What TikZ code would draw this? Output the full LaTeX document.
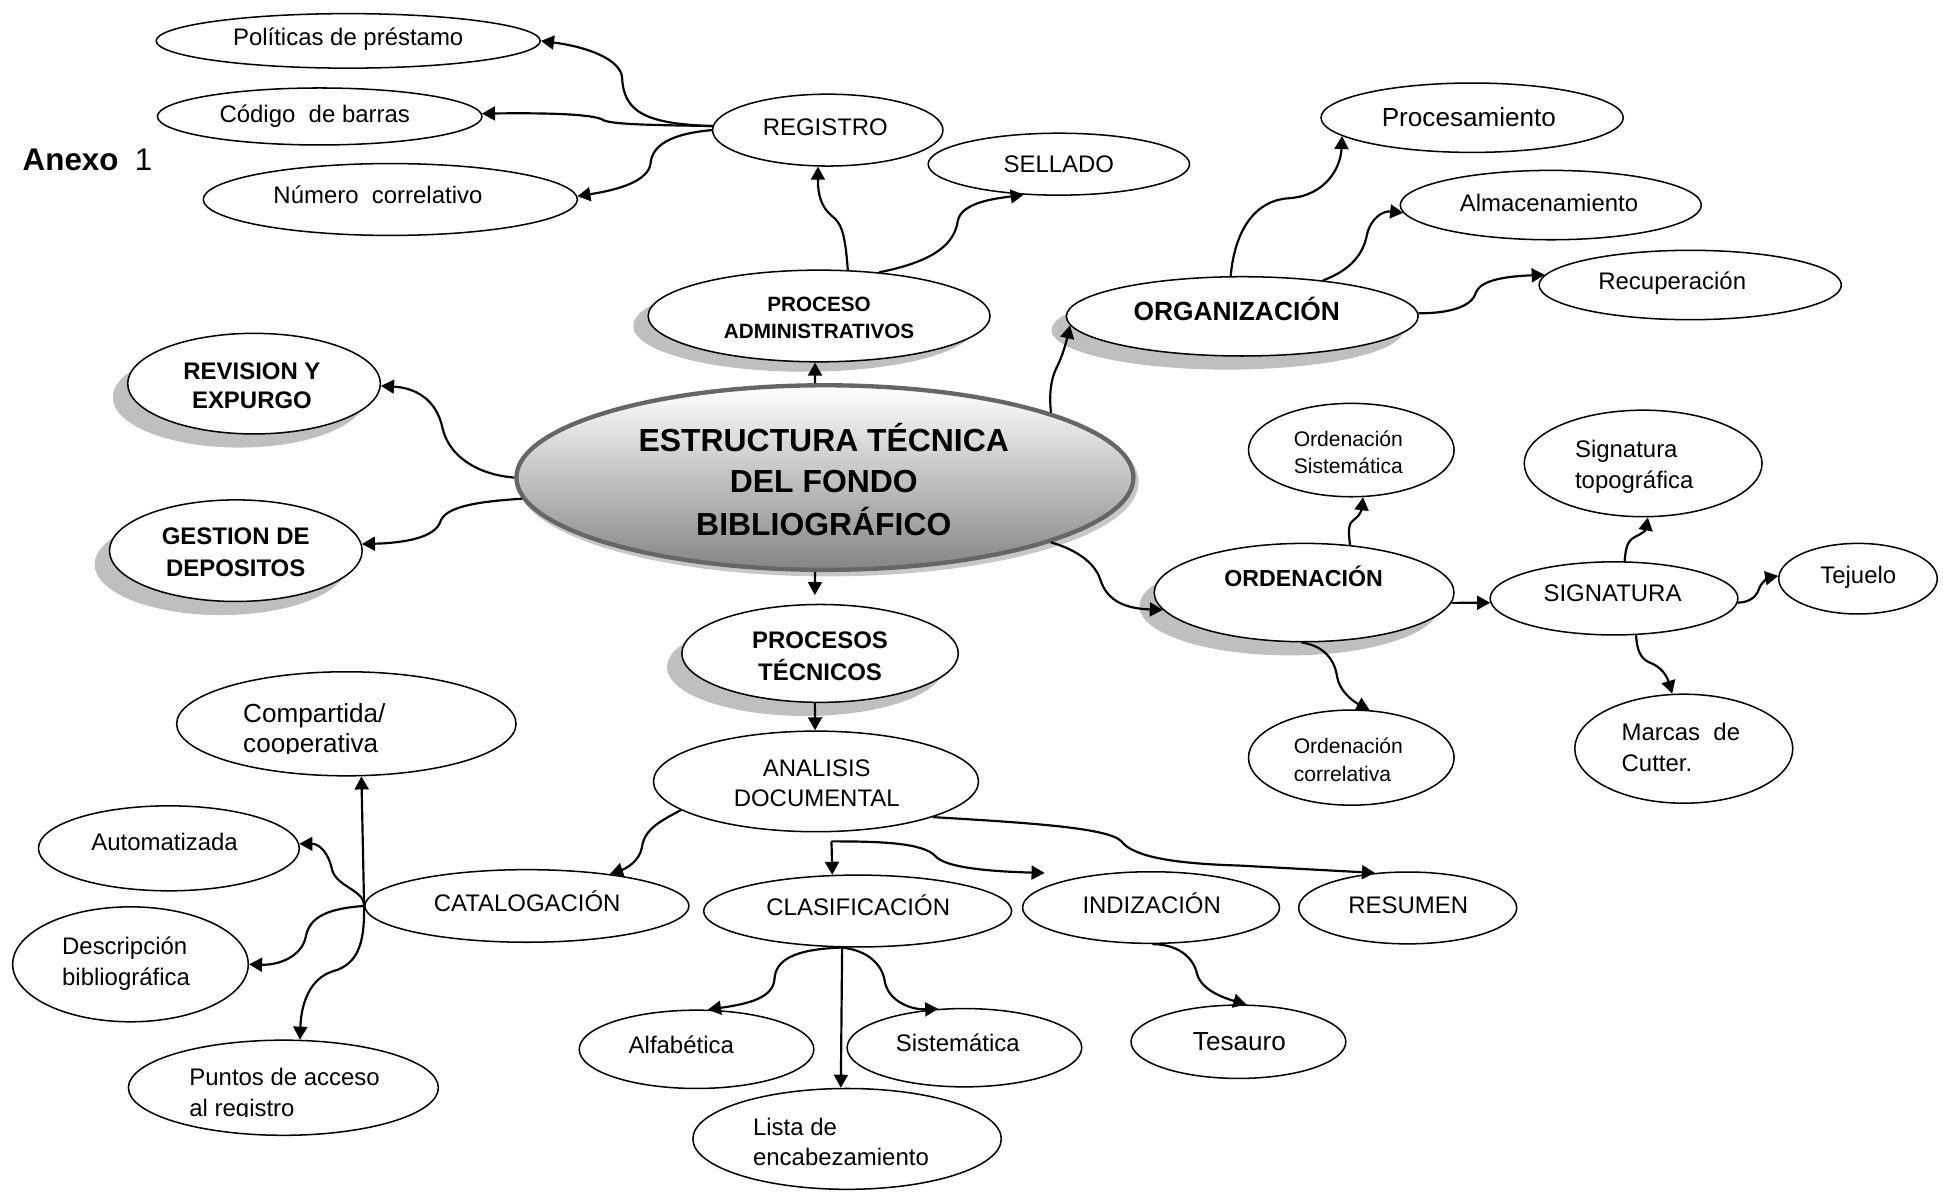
\documentclass[tikz,border=0pt]{standalone}
\usepackage{fontspec}
\setmainfont{Liberation Sans}
\usetikzlibrary{shapes.geometric,arrows.meta,calc}
\newcommand\ellN[6][]{\node[ell,minimum width={#5*0.04cm},minimum height={#6*0.04cm},#1] (#2) at (#3,#4) {};}
\newcommand\shadN[5]{\node[shad,minimum width={#4*0.04cm},minimum height={#5*0.04cm}] (#1-sh) at (#2,#3) {};}
\begin{document}
\begin{tikzpicture}[x=0.02cm, y=-0.02cm,
  ell/.style={ellipse, draw=black, line width=0.7pt, fill=white, inner sep=0pt},
  shad/.style={ellipse, fill=black!25, draw=none, inner sep=0pt},
  con/.style={line width=1pt, -{Triangle[length=6pt,width=6.4pt]}},
  lbl/.style={inner sep=0pt, anchor=base},
  lblL/.style={inner sep=0pt, anchor=base west},
  r11/.style={font=\fontsize{11}{13}\selectfont},
  r12/.style={font=\fontsize{12}{14}\selectfont},
  r97/.style={font=\fontsize{9.7}{12}\selectfont},
  b95/.style={font=\fontsize{9.5}{12}\selectfont\bfseries},
  b11/.style={font=\fontsize{11}{13}\selectfont\bfseries},
  b106/.style={font=\fontsize{10.65}{13}\selectfont\bfseries},
  b12/.style={font=\fontsize{12.1}{14}\selectfont\bfseries},
  b147/.style={font=\fontsize{14.65}{17}\selectfont\bfseries},
]
\useasboundingbox (0,0) rectangle (1568,962);

% ---------- shadows ----------
\shadN{pa}{649}{263}{138}{37}
\shadN{org}{990.5}{266.3}{142}{32}
\shadN{rev}{193}{320.6}{102}{40.6}
\shadN{ges}{178.3}{455.4}{102}{41}
\shadN{ordn}{1040.4}{489.2}{121}{39.7}
\shadN{pt}{649.8}{538.3}{111.6}{39.5}
\node[ellipse, inner sep=0pt, minimum width=9.96cm, minimum height=2.98cm,
      fill=black!22, draw=black!22, line width=2pt] (cen-sh) at (668.2,388.9) {};

% ---------- ellipses ----------
\node[ellipse, inner sep=0pt, minimum width=9.96cm, minimum height=2.98cm,
      draw=black!60, line width=2pt, top color=white, bottom color=black!48] (cen) at (665.7,385.4) {};
\ellN{pol}{281}{33}{155}{22}
\ellN{cod}{258}{94}{131}{23}
\ellN{num}{315}{161}{151}{29}
\ellN{reg}{668}{105}{93}{29}
\ellN{sel}{854.5}{132.5}{105.5}{25}
\ellN{pa}{661}{255}{138}{37}
\ellN{org}{1002.5}{255.3}{142}{32}
\ellN{proc}{1188}{95}{122}{28}
\ellN{alm}{1251.5}{165.5}{121.5}{28}
\ellN{rec}{1364}{230}{122}{28}
\ellN{rev}{205}{309.6}{102}{40.6}
\ellN{ges}{190.3}{444.4}{102}{41}
\ellN{ordn}{1052.4}{478.2}{121}{39.7}
\ellN{os}{1090.5}{363.2}{83}{37.7}
\ellN{oc}{1090.5}{611.4}{83}{38.4}
\ellN{sig}{1302.5}{482.9}{100}{29.5}
\ellN{st}{1326}{374}{96}{43}
\ellN{tej}{1499.4}{467}{64}{28.5}
\ellN{mc}{1358.8}{604.2}{88}{44}
\ellN{pt}{661.8}{527.3}{111.6}{39.5}
\ellN{ad}{658.5}{630.6}{131.2}{40.6}
\ellN{cla}{692.1}{735.2}{124.3}{29}
\ellN{ind}{928.9}{732.4}{103.7}{28.9}
\ellN{res}{1136}{732.7}{88}{29}
\ellN{tes}{999.4}{840.7}{86.7}{29.6}
\ellN{alf}{562.1}{846.8}{94.7}{31.6}
\ellN{sis}{778.3}{845.5}{94.7}{31.6}
\ellN{lis}{683.6}{919.1}{124.5}{40.7}
\ellN{cat}{425.2}{731.1}{130.8}{29.3}
\ellN{comp}{279.5}{584.1}{137}{42}
\ellN{aut}{136.3}{684.6}{105.3}{34.3}
\ellN{des}{105.3}{778.2}{95.1}{46.4}
\ellN{pun}{228.7}{877.8}{125.1}{38.4}

% ---------- texts ----------
\node[lblL, font=\fontsize{14.4}{17}\selectfont] (anexo) at (18,137.2) {\textbf{Anexo}\hspace{7.5pt}1};
\node[lbl,r11] (pol-t) at (281,37) {Políticas de préstamo};
\node[lbl,r11] (cod-t) at (254,99) {Código\ \ de barras};
\node[lbl,r11] (num-t) at (305,164) {Número\ \ correlativo};
\node[lbl,r11] (reg-t) at (666,109.5) {REGISTRO};
\node[lbl,r11] (sel-t) at (854.5,139) {SELLADO};
\node[lbl,b95] (pa-t1) at (661,251.5) {PROCESO};
\node[lbl,b95] (pa-t2) at (661,273.5) {ADMINISTRATIVOS};
\node[lbl,b12] (org-t) at (998,258.3) {ORGANIZACIÓN};
\node[lbl,r12] (proc-t) at (1185.4,102.2) {Procesamiento};
\node[lbl,r11] (alm-t) at (1250,170.8) {Almacenamiento};
\node[lbl,r11] (rec-t) at (1349.5,233.5) {Recuperación};
\node[lbl,b11] (rev-t1) at (203.3,306) {REVISION Y};
\node[lbl,b11] (rev-t2) at (203.3,329.5) {EXPURGO};
\node[lbl,b11] (ges-t1) at (190.2,439.6) {GESTION DE};
\node[lbl,b11] (ges-t2) at (190.2,465.1) {DEPOSITOS};
\node[lbl,b147] (cen-t1) at (664.8,364.6) {ESTRUCTURA TÉCNICA};
\node[lbl,b147] (cen-t2) at (664.8,397.8) {DEL FONDO};
\node[lbl,b147] (cen-t3) at (664.8,431.8) {BIBLIOGRÁFICO};
\node[lbl,b106] (ordn-t) at (1052,473.5) {ORDENACIÓN};
\node[lblL,r97] (os-t1) at (1043.7,360.5) {Ordenación};
\node[lblL,r97] (os-t2) at (1043.7,382) {Sistemática};
\node[lblL,r97] (oc-t1) at (1043.7,608) {Ordenación};
\node[lblL,r97] (oc-t2) at (1043.7,631) {correlativa};
\node[lbl,r11] (sig-t) at (1301.3,485.6) {SIGNATURA};
\node[lblL,r11] (st-t1) at (1270.7,369) {Signatura};
\node[lblL,r11] (st-t2) at (1270.7,394.5) {topográfica};
\node[lbl,r11] (tej-t) at (1499.6,471) {Tejuelo};
\node[lblL,r11] (mc-t1) at (1308.3,597.3) {Marcas\ \ de};
\node[lblL,r11] (mc-t2) at (1308.3,622.8) {Cutter.};
\node[lbl,b11] (pt-t1) at (661.8,523.3) {PROCESOS};
\node[lbl,b11] (pt-t2) at (661.8,548.8) {TÉCNICOS};
\node[lbl,r11] (ad-t1) at (659.1,626.3) {ANALISIS};
\node[lbl,r11] (ad-t2) at (659.1,651.1) {DOCUMENTAL};
\node[lbl,r11] (cla-t) at (692.6,738.5) {CLASIFICACIÓN};
\node[lbl,r11] (ind-t) at (929.4,737.1) {INDIZACIÓN};
\node[lbl,r11] (res-t) at (1136.5,737.1) {RESUMEN};
\node[lbl,r12] (tes-t) at (1000.2,847.5) {Tesauro};
\node[lbl,r11] (alf-t) at (549.8,850.1) {Alfabética};
\node[lbl,r11] (sis-t) at (772.9,848.5) {Sistemática};
\node[lblL,r11] (lis-t1) at (607.4,916) {Lista de};
\node[lblL,r11] (lis-t2) at (607.4,940.3) {encabezamiento};
\node[lbl,r11] (cat-t) at (425.4,735.5) {CATALOGACIÓN};
\node[lbl,r11] (aut-t) at (132.8,686) {Automatizada};
\node[lblL,r11] (des-t1) at (49.8,770) {Descripción};
\node[lblL,r11] (des-t2) at (49.8,795.5) {bibliográfica};
\begin{scope}
  \clip (140,550) rectangle (420,608.3);
  \node[lblL,r12] (comp-t1) at (195.9,583) {Compartida/};
  \node[lblL,r12] (comp-t2) at (195.9,607) {cooperativa};
\end{scope}
\begin{scope}
  \clip (110,850) rectangle (350,901.3);
  \node[lblL,r11] (pun-t1) at (152.5,876) {Puntos de acceso};
  \node[lblL,r11] (pun-t2) at (152.5,901) {al registro};
\end{scope}

% ---------- connectors ----------
\coordinate (brk) at (671,679);
\coordinate (indtip) at (843,704.5);

\draw[con] (reg.178.8) .. controls (520,100) and (503,90) .. (502,62) .. controls (500,48) and (475,38) .. (pol.0);
\draw[con] (reg.178.8) .. controls (540,101) and (495,101) .. (487,97) .. controls (480,92) and (440,91) .. (cod.1.3);
\draw[con] (reg.180) .. controls (540,108) and (526,118) .. (525,132) .. controls (523,146) and (500,153) .. (num.1.5);
\draw[con] (pa.58.3) .. controls (682,188) and (679,180) .. (671,174) .. controls (663,167) and (660,158) .. (reg.-105);
\draw[con] (pa.36.4) .. controls (748,212) and (770,200) .. (773,178) .. controls (776,163) and (805,160) .. (sel.-139.3);
\draw[con] (cen.96.3) -- (pa.-95.4);
\draw[con] (cen.16) .. controls (846,312) and (850,302) .. (853,296) .. controls (857,288) and (860,278) .. (org.183.1);
\draw[con] (org.106.4) .. controls (996,190) and (1010,162) .. (1040,160) .. controls (1070,158) and (1082,135) .. (proc.-172.9);
\draw[con] (org.24) .. controls (1090,218) and (1100,205) .. (1103,190) .. controls (1106,176) and (1116,170) .. (alm.-177.8);
\draw[con] (org.1) .. controls (1168,253) and (1188,248) .. (1191,236) .. controls (1195,226) and (1215,223) .. (rec.176.8);
\draw[con] (cen.180) .. controls (385,383) and (362,368) .. (357,345) .. controls (352,322) and (335,313) .. (rev.-1);
\draw[con] (cen.184.1) .. controls (380,405) and (358,410) .. (355,422) .. controls (350,433) and (330,438) .. (ges.3.3);
\draw[con, shorten >=4pt] (cen.-96.3) -- (pt.96.6);
\draw[con] (pt.-96.6) -- (ad.91.8);
\draw[con] (cen.-16.4) .. controls (870,444) and (884,455) .. (888,468) .. controls (893,483) and (905,491) .. (ordn.-173.4);
\draw[con] (ordn.46.4) .. controls (1088,428) and (1088,422) .. (1093,419) .. controls (1098,416) and (1099,410) .. (os.-76.5);
\draw[con] (ordn.-93) .. controls (1068,521) and (1077,532) .. (1079,546) .. controls (1081,558) and (1092,566) .. (oc.69.4);
\draw[con] (ordn.-4.1) -- (sig.182.3);
\draw[con] (sig.74.7) .. controls (1312,440) and (1314,436) .. (1320,433) .. controls (1326,430) and (1328,428) .. (st.-85.1);
\draw[con] (sig.-2.3) .. controls (1414,486) and (1418,480) .. (1420,474) .. controls (1423,468) and (1428,466) .. (tej.178.6);
\draw[con] (sig.-59.3) .. controls (1321,525) and (1324,532) .. (1332,535) .. controls (1340,538) and (1345,545) .. (mc.102.5);
\draw[con] (ad.-168) .. controls (530,664) and (520,670) .. (518,684) .. controls (516,695) and (505,701) .. (cat.21.8);
\draw[con] (brk) -- (cla.125.9);
\draw[con] (brk) .. controls (710,679) and (745,680) .. (755,691) .. controls (762,699) and (790,703) .. (indtip);
\draw[con] (ad.-17.8) .. controls (830,664) and (895,668) .. (905,679) .. controls (915,692) and (950,697) .. (1000,698.5) -- (res.133);
\draw[con] (cla.-113.4) .. controls (640,766) and (626,775) .. (625,790) .. controls (624,805) and (605,810) .. (alf.74.4);
\draw[con] (cla.-113.4) .. controls (700,767) and (712,778) .. (714,792) .. controls (717,808) and (735,815) .. (sis.124.9);
\draw[con] (cla.-113.4) -- (lis.97.1);
\draw[con] (ind.-88) .. controls (950,762) and (963,772) .. (966,786) .. controls (970,800) and (990,806) .. (tes.78.2);
\draw[con] (cat.west) -- (comp.-74.6);
\draw[con] (cat.west) .. controls (294,718) and (272,716) .. (268,702) .. controls (265,688) and (258,681) .. (aut.2.9);
\draw[con] (cat.west) .. controls (265,733) and (250,740) .. (247,755) .. controls (244,772) and (225,779) .. (des.-0.9);
\draw[con] (cat.west) .. controls (294,755) and (292,778) .. (268,784) .. controls (250,790) and (243,810) .. (pun.71.9);
\end{tikzpicture}
\end{document}
